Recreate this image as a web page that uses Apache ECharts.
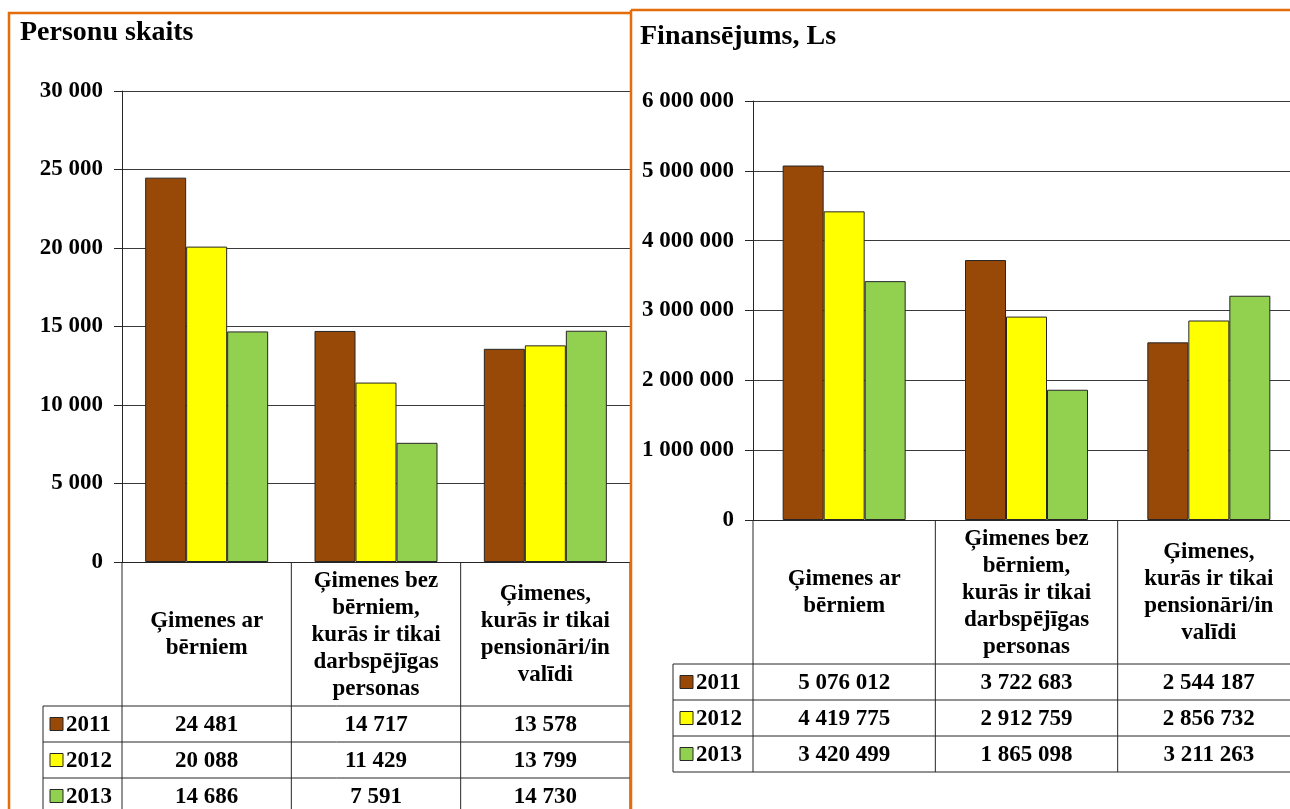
<!DOCTYPE html>
<html><head><meta charset="utf-8">
<script src="https://cdn.jsdelivr.net/npm/echarts@6/dist/echarts.min.js"></script>
<style>html,body{margin:0;padding:0;background:#fff}#c{width:1290px;height:809px}</style>
</head><body><div id="c"></div>
<script>
// ---- data ----
const categories = ['Ģimenes ar\nbērniem', 'Ģimenes bez\nbērniem,\nkurās ir tikai\ndarbspējīgas\npersonas', 'Ģimenes,\nkurās ir tikai\npensionāri/in\nvalīdi'];
const years = ['2011', '2012', '2013'];
const persons2011 = [24481, 14717, 13578];
const persons2012 = [20088, 11429, 13799];
const persons2013 = [14686, 7591, 14730];
const funding2011 = [5076012, 3722683, 2544187];
const funding2012 = [4419775, 2912759, 2856732];
const funding2013 = [3420499, 1865098, 3211263];
const personsAxis = { min: 0, max: 30000, interval: 5000 };
const fundingAxis = { min: 0, max: 6000000, interval: 1000000 };
const titles = ['Personu skaits', 'Finansējums, Ls'];

// ---- style ----
const colors = ['#984807', '#FFFF00', '#92D050'];
const FONT = 'bold 23px "Liberation Serif", "Times New Roman", serif';
const ORANGE = '#E46C0A';
const LINE = '#262626';
const fmt = v => String(v).replace(/\B(?=(\d{3})+(?!\d))/g, ' ');

const chart = echarts.init(document.getElementById('c'), null, { renderer: 'canvas' });

const yAxisCommon = (ax, idx) => ({
  type: 'value', gridIndex: idx, min: ax.min, max: ax.max, interval: ax.interval,
  axisLine: { show: true, lineStyle: { color: LINE, width: 1 } },
  axisTick: { show: true, length: 8, lineStyle: { color: LINE } },
  axisLabel: { color: '#000', fontFamily: '"Liberation Serif", serif', fontWeight: 'bold', fontSize: 23, margin: 19, formatter: fmt },
  splitLine: { show: true, lineStyle: { color: '#3a3a3a', width: 1 } }
});
const xAxisCommon = (idx) => ({
  type: 'category', gridIndex: idx, data: categories,
  axisLine: { show: true, lineStyle: { color: LINE, width: 1 } },
  axisTick: { show: false },
  axisLabel: { interval: 0, color: '#000', fontFamily: '"Liberation Serif", serif', fontWeight: 'bold', fontSize: 23,
    lineHeight: 27, margin: 73, verticalAlign: 'middle', align: 'center' }
});
const barSeries = (name, data, ci, gi) => ({
  type: 'bar', name, data, xAxisIndex: gi, yAxisIndex: gi, barWidth: 41, barGap: '0%',
  itemStyle: { color: colors[ci], borderColor: LINE, borderWidth: 1 }, silent: true, animation: false
});

chart.setOption({
  animation: false,
  grid: [
    { left: 122, top: 91, width: 508, height: 471, outerBoundsMode: 'none', containLabel: false },
    { left: 753, top: 101, width: 547, height: 419, outerBoundsMode: 'none', containLabel: false }
  ],
  xAxis: [xAxisCommon(0), xAxisCommon(1)],
  yAxis: [yAxisCommon(personsAxis, 0), yAxisCommon(fundingAxis, 1)],
  series: [
    barSeries(years[0], persons2011, 0, 0),
    barSeries(years[1], persons2012, 1, 0),
    barSeries(years[2], persons2013, 2, 0),
    barSeries(years[0], funding2011, 0, 1),
    barSeries(years[1], funding2012, 1, 1),
    barSeries(years[2], funding2013, 2, 1)
  ]
});

// ---- data tables, positioned from the axes ----
const tableSets = [
  { gi: 0, rows: [persons2011, persons2012, persons2013], legendLeft: 43 },
  { gi: 1, rows: [funding2011, funding2012, funding2013], legendLeft: 673 }
];
const HEADER_H = 144, ROW_H = 36;
const els = [];
const line = (x1, y1, x2, y2, color, w, z) => els.push({ type: 'line', silent: true, z: z || 50,
  shape: { x1, y1, x2, y2 }, style: { stroke: color || LINE, lineWidth: w || 1 } });
const text = (t, x, y, align) => els.push({ type: 'text', silent: true, z: 51,
  style: { text: t, x, y, font: FONT, fill: '#000', align: align || 'center', verticalAlign: 'middle' } });

tableSets.forEach(ts => {
  const centers = categories.map((_, i) => chart.convertToPixel({ xAxisIndex: ts.gi }, i));
  const bw = centers[1] - centers[0];
  const x0 = centers[0] - bw / 2;
  const xEnd = centers[centers.length - 1] + bw / 2;
  const y0 = chart.convertToPixel({ yAxisIndex: ts.gi }, 0);
  const rowTop = y0 + HEADER_H;
  const bottom = rowTop + ROW_H * ts.rows.length;
  for (let i = 0; i <= centers.length; i++) {
    const x = x0 + i * bw;
    line(x, y0, x, bottom);
  }
  line(ts.legendLeft, rowTop, ts.legendLeft, bottom);
  for (let r = 0; r <= ts.rows.length; r++) {
    const y = rowTop + r * ROW_H;
    line(ts.legendLeft, y, xEnd, y);
  }
  ts.rows.forEach((vals, r) => {
    const cy = rowTop + r * ROW_H + ROW_H / 2;
    els.push({ type: 'rect', silent: true, z: 51,
      shape: { x: ts.legendLeft + 7, y: cy - 6.5, width: 13, height: 13 },
      style: { fill: colors[r], stroke: LINE, lineWidth: 1 } });
    text(years[r], ts.legendLeft + 23, cy + 1, 'left');
    vals.forEach((v, i) => text(fmt(v), centers[i], cy + 1));
  });
});

// panel frames and titles
els.push({ type: 'polyline', silent: true, z: 60,
  shape: { points: [[9, 820], [9, 13], [631, 13]] }, style: { stroke: ORANGE, lineWidth: 2.5, fill: null } });
line(631, 10, 631, 820, ORANGE, 2.5, 60);
line(631, 10, 1300, 10, ORANGE, 2.5, 60);
els.push({ type: 'text', silent: true, z: 61, style: { text: titles[0], x: 20, y: 33,
  font: 'bold 28px "Liberation Serif", serif', fill: '#000', verticalAlign: 'middle' } });
els.push({ type: 'text', silent: true, z: 61, style: { text: titles[1], x: 640, y: 37,
  font: 'bold 28px "Liberation Serif", serif', fill: '#000', verticalAlign: 'middle' } });

chart.setOption({ graphic: { elements: els } });
</script>
</body></html>
